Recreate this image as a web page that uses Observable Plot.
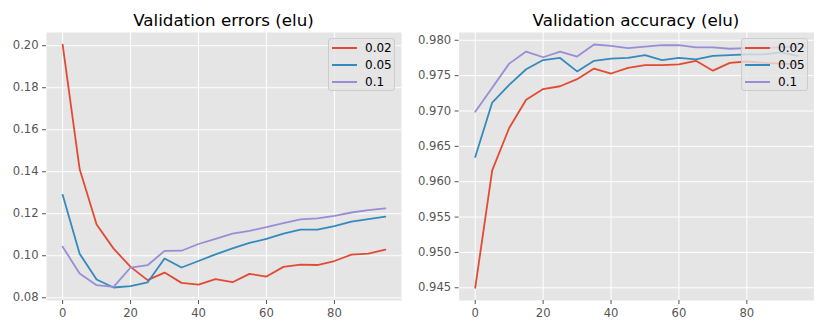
<!DOCTYPE html>
<html><head><meta charset="utf-8">
<script src="https://cdn.jsdelivr.net/npm/d3@7"></script>
<script src="https://cdn.jsdelivr.net/npm/@observablehq/plot@0.6"></script>
<style>
body{margin:0;background:#fff;}
#wrap{position:relative;width:830px;height:332px;font-family:"DejaVu Sans",sans-serif;overflow:hidden;}
.panel{position:absolute;top:0;}
.title{position:absolute;top:12px;text-align:center;font-size:16.7px;line-height:16px;color:#000;white-space:nowrap;}
.legend{position:absolute;top:38px;width:67px;height:53px;background:rgba(229,229,229,0.8);border:1px solid #ccc;border-radius:3px;box-sizing:border-box;}
.lrow{position:absolute;left:3px;height:17px;width:62px;}
.lline{position:absolute;left:0;top:7.5px;width:25px;height:1.8px;}
.ltext{position:absolute;left:33px;top:0;font-size:12px;line-height:17px;color:#000;}
</style>
</head><body>
<div id="wrap"></div>
<script>
const epochs = [0,5,10,15,20,25,30,35,40,45,50,55,60,65,70,75,80,85,90,95];
const lrLabels = ["0.02","0.05","0.1"];
const lrColors = ["#E24A33","#348ABD","#988ED5"];

const err002 = [0.2005,0.1413,0.1149,0.1034,0.0947,0.0884,0.0920,0.0871,0.0863,0.0889,0.0874,0.0914,0.0901,0.0947,0.0958,0.0956,0.0975,0.1005,0.1010,0.1029];
const err005 = [0.1290,0.1010,0.0887,0.0849,0.0855,0.0873,0.0987,0.0944,0.0975,0.1007,0.1035,0.1061,0.1080,0.1105,0.1124,0.1124,0.1141,0.1163,0.1174,0.1186];
const err01  = [0.1043,0.0916,0.0860,0.0852,0.0944,0.0955,0.1023,0.1024,0.1056,0.1080,0.1105,0.1119,0.1136,0.1155,0.1173,0.1178,0.1190,0.1206,0.1217,0.1226];

const acc002 = [0.9450,0.9616,0.9676,0.9716,0.9731,0.9735,0.9745,0.9760,0.9753,0.9761,0.9765,0.9765,0.9766,0.9771,0.9757,0.9768,0.9770,0.9768,0.9767,0.9766];
const acc005 = [0.9635,0.9712,0.9737,0.9759,0.9772,0.9775,0.9756,0.9771,0.9774,0.9775,0.9779,0.9772,0.9775,0.9773,0.9778,0.9779,0.9780,0.9780,0.9783,0.9778];
const acc01  = [0.9699,0.9733,0.9767,0.9784,0.9776,0.9784,0.9777,0.9794,0.9792,0.9789,0.9791,0.9793,0.9793,0.9790,0.9790,0.9788,0.9789,0.9789,0.9790,0.9791];

const xTicks = [0,20,40,60,80];
const errTicks = [0.08,0.10,0.12,0.14,0.16,0.18,0.20];
const accTicks = [0.945,0.950,0.955,0.960,0.965,0.970,0.975,0.980];

const titles = ["Validation errors (elu)","Validation accuracy (elu)"];

function toRows(seriesList){
  const rows = [];
  seriesList.forEach((vals,i)=>vals.forEach((v,j)=>rows.push({epoch:epochs[j], value:v, lr:lrLabels[i]})));
  return rows;
}

const wrap = document.getElementById("wrap");

function panel(rows, left, mL, mR, yDomain, yTicks, fmt, title){
  const chart = Plot.plot({
    width:415, height:332,
    marginLeft:mL, marginRight:mR, marginTop:32, marginBottom:32,
    x:{domain:[-4.75,99.75]},
    y:{domain:yDomain},
    color:{domain:lrLabels, range:lrColors},
    style:{fontFamily:"DejaVu Sans", fontSize:"11.6px", color:"#555", background:"transparent"},
    marks:[
      Plot.frame({fill:"#E5E5E5", stroke:null}),
      Plot.gridX(xTicks, {stroke:"white", strokeOpacity:1, strokeWidth:1}),
      Plot.gridY(yTicks, {stroke:"white", strokeOpacity:1, strokeWidth:1}),
      Plot.lineY(rows, {x:"epoch", y:"value", stroke:"lr", strokeWidth:1.8, z:"lr"}),
      Plot.axisX(xTicks, {tickSize:4, tickPadding:4.5, label:null, stroke:"#555", fill:"#555", fontSize:11.6}),
      Plot.axisY(yTicks, {tickSize:4, tickPadding:3.9, tickFormat:d3.format(fmt), label:null, stroke:"#555", fill:"#555", fontSize:11.6})
    ]
  });
  chart.classList.add("panel");
  chart.style.left = left + "px";
  wrap.appendChild(chart);

  const t = document.createElement("div");
  t.className = "title";
  t.style.left = (left + mL) + "px";
  t.style.width = (415 - mL - mR) + "px";
  t.textContent = title;
  wrap.appendChild(t);
}

panel(toRows([err002,err005,err01]), 0, 46, 14, [0.0787,0.2063], errTicks, ".2f", titles[0]);
panel(toRows([acc002,acc005,acc01]), 415, 43.6, 16.6, [0.9432,0.9811], accTicks, ".3f", titles[1]);

function legend(left){
  const box = document.createElement("div");
  box.className = "legend";
  box.style.left = left + "px";
  lrLabels.forEach((lab,i)=>{
    const row = document.createElement("div");
    row.className = "lrow";
    row.style.top = (0.5 + i*17) + "px";
    const ln = document.createElement("div");
    ln.className = "lline";
    ln.style.background = lrColors[i];
    const tx = document.createElement("div");
    tx.className = "ltext";
    tx.textContent = lab;
    row.appendChild(ln); row.appendChild(tx);
    box.appendChild(row);
  });
  wrap.appendChild(box);
}
legend(328);
legend(741);
</script>
</body></html>
